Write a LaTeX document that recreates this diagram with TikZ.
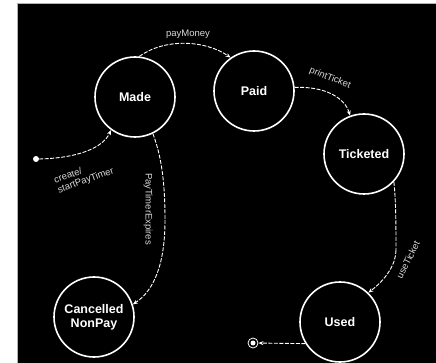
\documentclass[tikz,border=0pt]{standalone}
\usepackage{fontspec}
\setmainfont{Liberation Sans}
\usetikzlibrary{arrows.meta}
\begin{document}
\begin{tikzpicture}[x=1pt,y=-1pt,
  state/.style={circle,draw=white,line width=1.6pt,minimum size=80pt,inner sep=0pt,
    text=white,font=\fontsize{12.5}{14}\selectfont\bfseries,align=center},
  trans/.style={draw=white,line width=0.9pt,dash pattern=on 4pt off 1.5pt,
    -{Stealth[length=5pt,width=4pt]}},
  transline/.style={draw=white,line width=0.9pt,dash pattern=on 4pt off 1.5pt},
  lbl/.style={text=white!85!black,font=\fontsize{9.5}{10.5}\selectfont,inner sep=1pt,align=left}]
\useasboundingbox (0,0) rectangle (436,363);
\fill[white] (0,0) rectangle (436,363);
\fill[black] (17,3) rectangle (436,363);
\draw[gray!60,line width=0.8pt] (17,363) -- (17,3) -- (436,3);

\node[state] (made) at (135,97) {Made};
\node[state] (paid) at (254,91) {Paid};
\node[state] (tick) at (364,154) {Ticketed};
\node[state] (canc) at (94,317) {Cancelled\\NonPay};
\node[state] (used) at (340,322) {Used};

\node[circle,fill=white,minimum size=6pt,inner sep=0pt] (start) at (36,159) {};
\node[circle,draw=white,line width=0.8pt,minimum size=10pt,inner sep=0pt] (final) at (253,343) {};
\node[circle,fill=white,minimum size=5pt,inner sep=0pt] (finaldot) at (final) {};

\coordinate (mc) at (165,220);
\coordinate (tu) at (396,250);

\draw[trans] (start.east) .. controls (78,158) and (103,148) .. (made.234);
\draw[trans] (made.84) .. controls (165,38) and (205,40) .. (paid.125);
\draw[trans] (paid.5) .. controls (325,86) and (345,98) .. (tick.110);
\draw[transline] (made.-64) .. controls (163,160) and (165,190) .. (mc);
\draw[trans] (mc) .. controls (165,262) and (155,290) .. (canc.18);
\draw[transline] (tick.-43) .. controls (396,200) and (396,230) .. (tu);
\draw[trans] (tu) .. controls (396,265) and (385,280) .. (used.46);
\draw[trans] (used.212) -- (final);

\node[lbl] (l1) at (188,34) {payMoney};
\node[lbl,rotate=-22] (l2) at (330,78) {printTicket};
\node[lbl,rotate=20] (l3) at (84,176) {create/\\startPayTimer};
\node[lbl,rotate=-90] (l4) at (148,209) {PayTimerExpires};
\node[lbl,rotate=63] (l5) at (408,260) {useTicket};
\end{tikzpicture}
\end{document}
